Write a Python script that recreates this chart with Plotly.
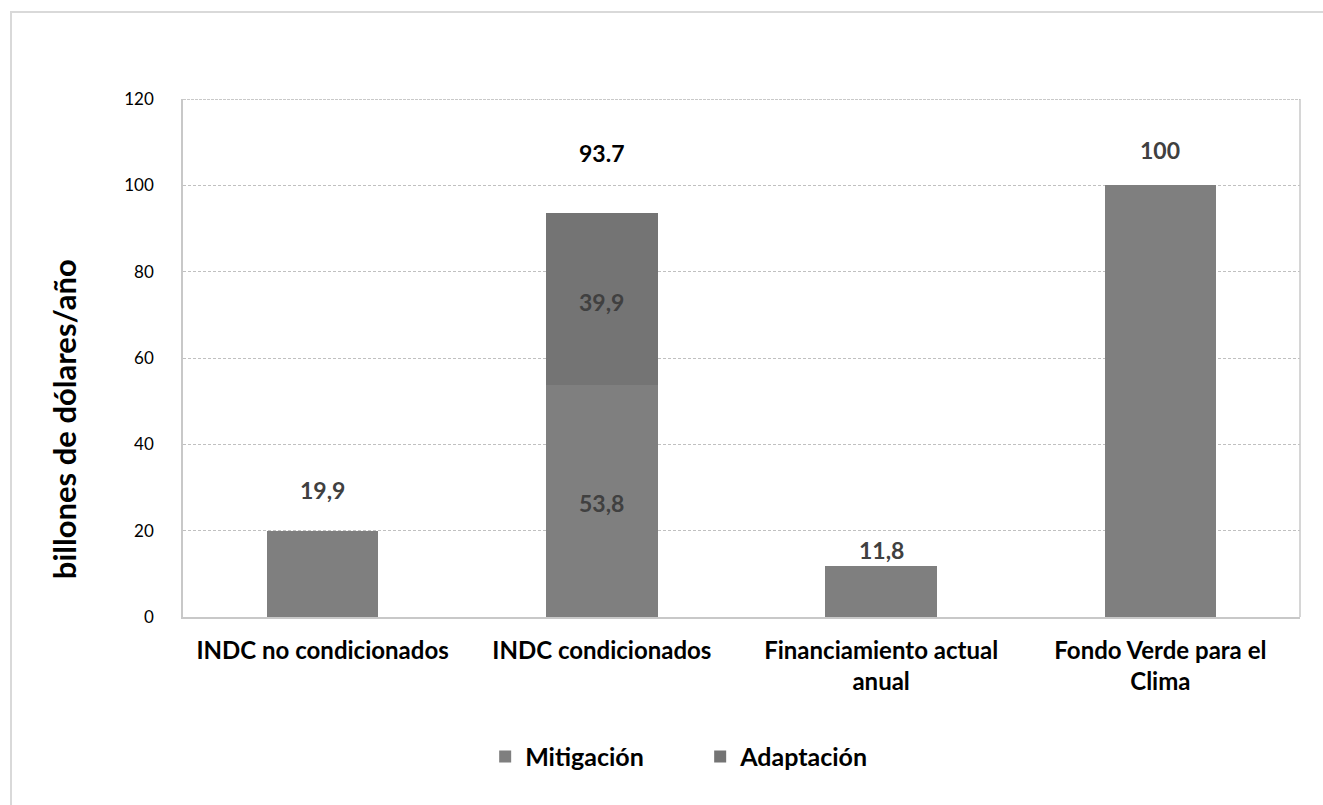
import plotly.graph_objects as go

categories = ["INDC no condicionados", "INDC condicionados",
              "Financiamiento actual<br>anual", "Fondo Verde para el<br>Clima"]
mitigacion = [19.9, 53.8, 11.8, 100]
adaptacion = [None, 39.9, None, None]
total_condicionados = 93.7
y_ticks = [0, 20, 40, 60, 80, 100, 120]
y_title = "billones de dólares/año"

# label offsets above value (data units) for outside labels
outside_offsets = [9.5, None, 3.7, 8.2]

def es(v):
    s = f"{v:.1f}".replace(".", ",")
    return s[:-2] if s.endswith(",0") else s

FONT = "Lato"
LBL = 23
fig = go.Figure()
fig.add_trace(go.Bar(name="Mitigación", x=categories, y=mitigacion,
                     marker=dict(color="#7f7f7f", line=dict(width=0))))
fig.add_trace(go.Bar(name="Adaptación", x=categories, y=adaptacion,
                     marker=dict(color="#747474", line=dict(width=0))))

ann = []
for c, v, off in zip(categories, mitigacion, outside_offsets):
    if off is not None:
        ann.append(dict(x=c, y=v + off, text=f"<b>{es(v)}</b>", showarrow=False,
                        font=dict(family=FONT, size=LBL, color="#404040")))
# inside labels for stacked bar
c = categories[1]
m = mitigacion[1]
a = adaptacion[1]
ann.append(dict(x=c, y=m / 2 - 0.5, text=f"<b>{es(m)}</b>", showarrow=False,
                font=dict(family=FONT, size=LBL, color="#404040")))
ann.append(dict(x=c, y=m + a / 2 - 0.8, text=f"<b>{es(a)}</b>", showarrow=False,
                font=dict(family=FONT, size=LBL, color="#404040")))
ann.append(dict(x=c, y=total_condicionados + 13.8, text=f"<b>{total_condicionados}</b>",
                showarrow=False, font=dict(family=FONT, size=LBL, color="#000000")))
# y-axis title (placed as in the reference, below the plot centre)
ann.append(dict(xref="paper", yref="paper", x=-0.1065, y=0.382, text=f"<b>{y_title}</b>",
                textangle=-90, showarrow=False, xanchor="center", yanchor="middle",
                font=dict(family=FONT, size=31, color="#000000")))

fig.update_layout(
    barmode="stack",
    bargap=0.6,
    width=1323, height=805,
    margin=dict(l=183, r=23, t=99, b=188),
    paper_bgcolor="white", plot_bgcolor="white",
    font=dict(family=FONT, color="#000000"),
    annotations=ann,
    legend=dict(orientation="h", x=0.463, xanchor="center", y=-0.27, yanchor="middle",
                font=dict(family=FONT, size=25, color="#000000", weight="bold"),
                itemwidth=30, entrywidth=170, entrywidthmode="pixels",
                traceorder="normal", tracegroupgap=0),
    xaxis=dict(showline=True, linecolor="#c8c8c8", linewidth=1.5, showgrid=False,
               ticks="", ticklabelstandoff=11,
               tickfont=dict(family=FONT, size=24, color="#000000", weight="bold")),
    yaxis=dict(range=[0, 120], tickvals=y_ticks, showgrid=True, gridcolor="#c0c0c0",
               griddash="3px,2px", gridwidth=1, showline=True, linecolor="#c8c8c8", linewidth=1.5,
               zeroline=False, ticks="", ticklabelstandoff=24,
               tickfont=dict(family=FONT, size=17, color="#000000")),
    shapes=[
        dict(type="line", xref="paper", yref="paper", x0=1, x1=1, y0=0, y1=1,
             line=dict(color="#c8c8c8", width=1.5)),
        dict(type="line", xref="paper", yref="y", x0=0, x1=1, y0=y_ticks[-1], y1=y_ticks[-1],
             line=dict(color="#b8b8b8", width=1.5, dash="3px,1px")),
        dict(type="rect", xref="paper", yref="paper", x0=-0.154, x1=1.03, y0=-0.38, y1=1.168,
             line=dict(color="#d9d9d9", width=2), fillcolor="rgba(0,0,0,0)", layer="below"),
    ],
)

fig.write_html("out.html")
